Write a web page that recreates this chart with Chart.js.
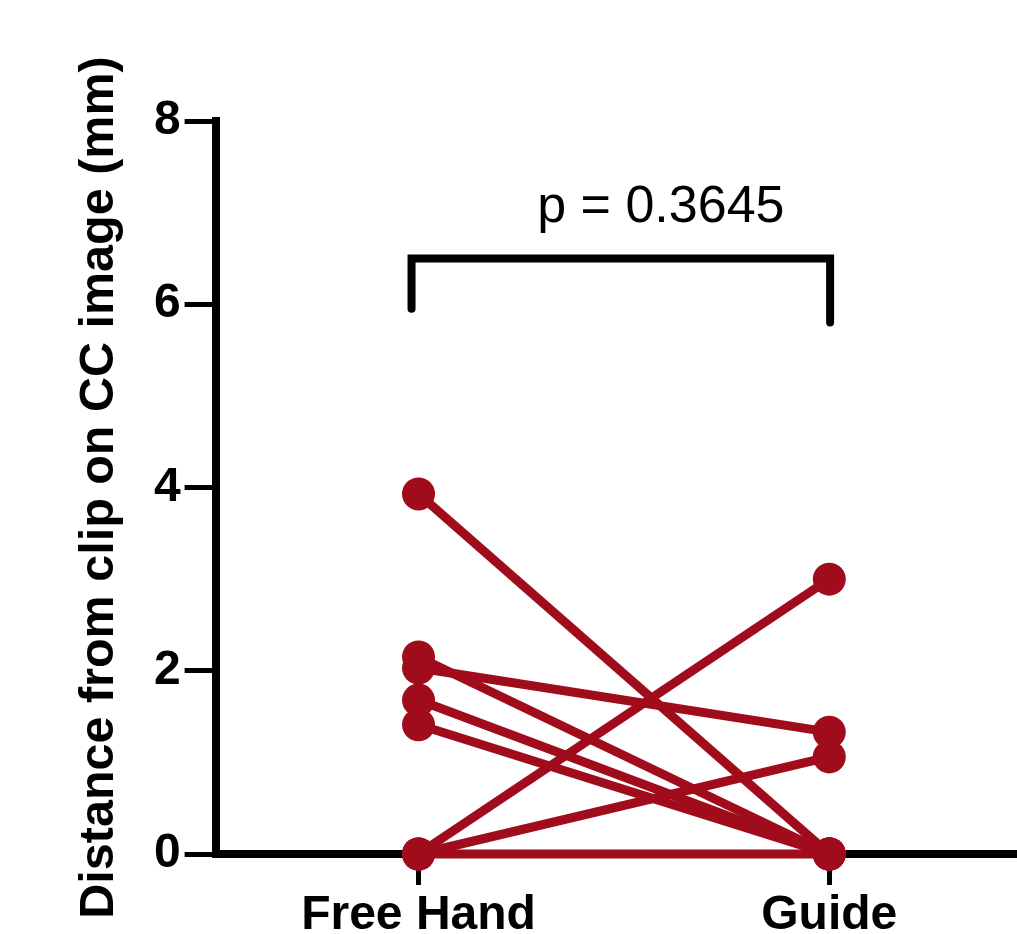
<!DOCTYPE html>
<html>
<head>
<meta charset="utf-8">
<script src="https://cdn.jsdelivr.net/npm/chart.js@4.4.0/dist/chart.umd.min.js"></script>
<style>
  html, body { margin: 0; padding: 0; background: #fff; }
  canvas { display: block; }
</style>
</head>
<body>
<canvas id="pairChart" width="1017" height="934"></canvas>
<script>
const categories = ['Free Hand', 'Guide'];
// one value per subject, same order in both lists
const freeHand = [3.93, 2.15, 2.03, 1.68, 1.41, 0, 0, 0];
const guide = [0, 0, 1.33, 0, 0, 3.0, 1.06, 0];
const yTicks = [0, 2, 4, 6, 8];
const pLabel = 'p = 0.3645';

const red = 'rgb(160, 12, 28)';
const fontFamily = '"Liberation Sans", Arial, Helvetica, sans-serif';

const datasets = freeHand.map((v, i) => ({
    label: 'subject ' + (i + 1),
    data: [{x: 0, y: v}, {x: 1, y: guide[i]}],
    borderColor: red,
    backgroundColor: red,
    borderWidth: 9,
    pointRadius: 16.5,
    pointBorderWidth: 0,
    pointHoverRadius: 16.5,
    clip: false,
}));

// significance bracket above the two groups
const bracketPlugin = {
    id: 'bracket',
    afterDatasetsDraw(chart) {
        const {ctx, scales: {x, y}} = chart;
        const xl = x.getPixelForValue(-0.017);
        const xr = x.getPixelForValue(1.002);
        const yTop = y.getPixelForValue(6.5);
        ctx.save();
        ctx.strokeStyle = '#000';
        ctx.lineWidth = 8;
        ctx.lineCap = 'round';
        ctx.lineJoin = 'miter';
        ctx.beginPath();
        ctx.moveTo(xl, y.getPixelForValue(5.95));
        ctx.lineTo(xl, yTop);
        ctx.lineTo(xr, yTop);
        ctx.lineTo(xr, y.getPixelForValue(5.8));
        ctx.stroke();
        ctx.fillStyle = '#000';
        ctx.font = '52px ' + fontFamily;
        ctx.textAlign = 'center';
        ctx.textBaseline = 'alphabetic';
        ctx.fillText(pLabel, x.getPixelForValue(0.59), y.getPixelForValue(6.9));
        ctx.restore();
    }
};

const myChart = new Chart(document.getElementById('pairChart'), {
    type: 'line',
    data: { datasets: datasets },
    plugins: [bracketPlugin],
    options: {
        responsive: false,
        animation: false,
        layout: {
            autoPadding: false,
            padding: { top: 121, left: 70.7, right: 0, bottom: -12.6 }
        },
        plugins: {
            legend: { display: false },
            tooltip: { enabled: false }
        },
        scales: {
            x: {
                type: 'linear',
                min: -0.494,
                max: 1.457,
                afterBuildTicks: (scale) => {
                    scale.ticks = categories.map((c, i) => ({value: i}));
                },
                ticks: {
                    callback: (v) => categories[v],
                    color: '#000',
                    padding: 2,
                    maxRotation: 0,
                    font: { family: fontFamily, size: 48, weight: 'bold' }
                },
                grid: {
                    drawOnChartArea: false,
                    tickLength: 31,
                    tickWidth: 5,
                    tickColor: '#000'
                },
                border: { color: '#000', width: 8 }
            },
            y: {
                min: 0,
                max: 8,
                afterBuildTicks: (scale) => {
                    scale.ticks = yTicks.map(v => ({value: v}));
                },
                ticks: {
                    color: '#000',
                    padding: 4,
                    font: { family: fontFamily, size: 48, weight: 'bold' }
                },
                grid: {
                    drawOnChartArea: false,
                    tickLength: 31,
                    tickWidth: 5,
                    tickColor: '#000'
                },
                border: { color: '#000', width: 8 },
                title: {
                    display: true,
                    text: 'Distance from clip on CC image (mm)',
                    color: '#000',
                    padding: { top: 0, bottom: 21 },
                    font: { family: fontFamily, size: 48.5, weight: 'bold' }
                }
            }
        }
    }
});
</script>
</body>
</html>
